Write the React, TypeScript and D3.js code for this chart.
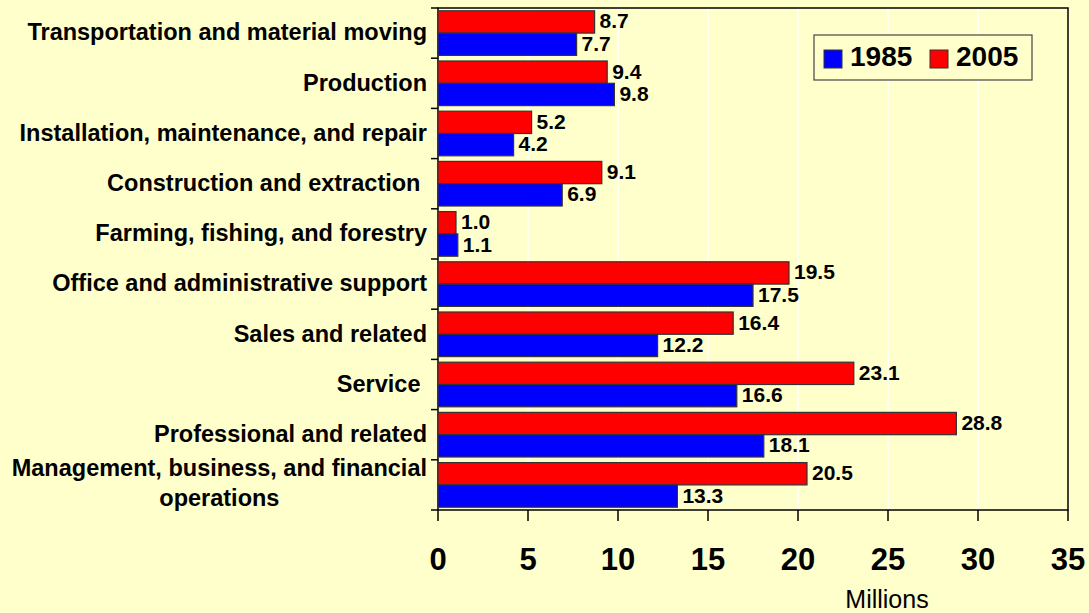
import React, { useEffect, useRef } from 'react';
import * as d3 from 'd3';

const categories = [
  'Transportation and material moving',
  'Production',
  'Installation, maintenance, and repair',
  'Construction and extraction ',
  'Farming, fishing, and forestry',
  'Office and administrative support',
  'Sales and related',
  'Service ',
  'Professional and related',
  'Management, business, and financial|operations',
];
const values2005 = [8.7, 9.4, 5.2, 9.1, 1.0, 19.5, 16.4, 23.1, 28.8, 20.5];
const values1985 = [7.7, 9.8, 4.2, 6.9, 1.1, 17.5, 12.2, 16.6, 18.1, 13.3];
const xTicks = [0, 5, 10, 15, 20, 25, 30, 35];

const W = 1089;
const H = 613;
const BG = '#FFFFCC';
const FONT = 'Arial, "Liberation Sans", sans-serif';

const App: React.FC = () => {
  const ref = useRef<SVGSVGElement>(null);

  useEffect(() => {
    if (!ref.current) return;
    const svg = d3.select(ref.current);
    svg.selectAll('*').remove();

    const left = 438, right = 1068, top = 8, bottom = 510;

    const x = d3.scaleLinear().domain([0, 35]).range([left, right]);
    const y = d3.scaleBand().domain(categories.map((_, i) => String(i))).range([top, bottom]);
    const sub = d3.scaleBand().domain(['2005', '1985']).range([0, y.bandwidth()]).paddingOuter(0.125);

    svg.append('rect').attr('width', W).attr('height', H).attr('fill', BG);

    // gridlines
    svg.append('g')
      .selectAll('line')
      .data(xTicks.filter(t => t > 0 && t < 35))
      .join('line')
      .attr('x1', d => x(d)).attr('x2', d => x(d))
      .attr('y1', top).attr('y2', bottom)
      .attr('stroke', '#ffffff').attr('stroke-width', 1.5);

    // plot border
    svg.append('rect')
      .attr('x', left).attr('y', top)
      .attr('width', right - left).attr('height', bottom - top)
      .attr('fill', 'none').attr('stroke', '#000').attr('stroke-width', 1.5);

    const series = [
      { key: '2005', values: values2005, color: '#FF0000' },
      { key: '1985', values: values1985, color: '#0000FF' },
    ];

    series.forEach(s => {
      const g = svg.append('g');
      g.selectAll('rect')
        .data(s.values)
        .join('rect')
        .attr('x', x(0))
        .attr('y', (_, i) => (y(String(i)) || 0) + (sub(s.key) || 0))
        .attr('width', d => x(d) - x(0))
        .attr('height', sub.bandwidth())
        .attr('fill', s.color)
        .attr('stroke', '#333').attr('stroke-width', 1.2);
      g.selectAll('text')
        .data(s.values)
        .join('text')
        .attr('x', d => x(d) + 5)
        .attr('y', (_, i) => (y(String(i)) || 0) + (sub(s.key) || 0) + sub.bandwidth() / 2 + 1)
        .attr('dominant-baseline', 'middle')
        .attr('font-family', FONT).attr('font-weight', 'bold').attr('font-size', 21)
        .attr('fill', '#000')
        .text(d => d.toFixed(1));
    });

    // y axis ticks
    const yEdges = categories.map((_, i) => y(String(i)) || 0).concat([bottom]);
    svg.append('g').selectAll('line').data(yEdges).join('line')
      .attr('x1', left - 7).attr('x2', left).attr('y1', d => d).attr('y2', d => d)
      .attr('stroke', '#000').attr('stroke-width', 1.5);

    // category labels
    const catSize = 23.5;
    categories.forEach((c, i) => {
      const lines = c.split('|');
      const cy = (y(String(i)) || 0) + y.bandwidth() / 2 + 1;
      const lh = 30;
      const t = svg.append('text')
        .attr('font-family', FONT).attr('font-weight', 'bold').attr('font-size', catSize)
        .attr('fill', '#000')
        .style('white-space', 'pre');
      if (lines.length === 1) {
        t.attr('x', 427).attr('y', cy).attr('text-anchor', 'end').attr('dominant-baseline', 'middle').text(c);
      } else {
        t.attr('x', 427).attr('y', cy - lh / 2 - 1).attr('text-anchor', 'end').attr('dominant-baseline', 'middle').text(lines[0]);
        const w = (t.node() as SVGTextElement).getComputedTextLength();
        svg.append('text')
          .attr('font-family', FONT).attr('font-weight', 'bold').attr('font-size', catSize)
          .attr('x', 427 - w / 2).attr('y', cy + lh / 2 - 1)
          .attr('text-anchor', 'middle').attr('dominant-baseline', 'middle')
          .text(lines[1]);
      }
    });

    // x axis ticks and labels
    const xg = svg.append('g');
    xg.selectAll('line').data(xTicks).join('line')
      .attr('x1', d => x(d)).attr('x2', d => x(d))
      .attr('y1', bottom).attr('y2', bottom + 11)
      .attr('stroke', '#000').attr('stroke-width', 1.5);
    xg.selectAll('text').data(xTicks).join('text')
      .attr('x', d => x(d)).attr('y', 562)
      .attr('text-anchor', 'middle').attr('dominant-baseline', 'middle')
      .attr('font-family', FONT).attr('font-weight', 'bold').attr('font-size', 31)
      .text(d => String(d));

    svg.append('text')
      .attr('x', 887).attr('y', 601)
      .attr('text-anchor', 'middle').attr('dominant-baseline', 'middle')
      .attr('font-family', FONT).attr('font-size', 25)
      .text('Millions');

    // legend
    const lg = svg.append('g');
    lg.append('rect').attr('x', 814).attr('y', 35).attr('width', 218).attr('height', 45)
      .attr('fill', BG).attr('stroke', '#444').attr('stroke-width', 1.2);
    const items = [
      { label: '1985', color: '#0000FF', x: 824 },
      { label: '2005', color: '#FF0000', x: 930 },
    ];
    items.forEach(it => {
      lg.append('rect').attr('x', it.x).attr('y', 50).attr('width', 18).attr('height', 18)
        .attr('fill', it.color).attr('stroke', '#333').attr('stroke-width', 1);
      lg.append('text').attr('x', it.x + 26).attr('y', 59)
        .attr('dominant-baseline', 'middle')
        .attr('font-family', FONT).attr('font-weight', 'bold').attr('font-size', 28)
        .text(it.label);
    });
  }, []);

  return (
    <svg ref={ref} width={W} height={H} style={{ position: 'absolute', top: 0, left: 0, display: 'block' }} />
  );
};

export default App;
